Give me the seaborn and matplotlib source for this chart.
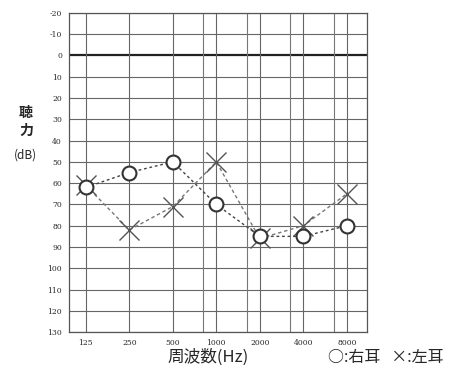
import numpy as np
import pandas as pd
import matplotlib
matplotlib.use("Agg")
import matplotlib.pyplot as plt
import seaborn as sns

# audiogram data (dB HL)
freqs = ["125", "250", "500", "1000", "2000", "4000", "8000"]
right_ear = [62, 55, 50, 70, 85, 85, 80]
left_ear = [61, 82, 71, 50, 86, 80, 65]
yticks = list(range(-20, 131, 10))

sns.set_style("white")
plt.rcParams["font.family"] = ["Noto Sans CJK JP", "DejaVu Sans"]

pos = np.arange(len(freqs))
df = pd.DataFrame({"pos": np.concatenate([pos, pos]),
                   "dB": right_ear + left_ear,
                   "ear": ["right"] * len(freqs) + ["left"] * len(freqs)})

fig = plt.figure(figsize=(4.62, 3.80), dpi=100)
ax = fig.add_axes([0.149, 0.126, 0.645, 0.840])

# grid
for y in yticks:
    if y == 0:
        ax.axhline(y, color="#222222", lw=1.6, zorder=1)
    else:
        ax.axhline(y, color="#666666", lw=0.8, zorder=1)
for x in pos:
    ax.axvline(x, color="#666666", lw=0.8, zorder=1)
# extra lines between octaves
for x in [2.7, 3.7, 4.7, 5.7]:
    ax.axvline(x, color="#777777", lw=0.8, zorder=1)

sns.lineplot(data=df[df.ear == "right"], x="pos", y="dB", ax=ax, color="#444444",
             linestyle=(0, (2, 2)), lw=1.0, marker="o", markersize=10,
             markerfacecolor="white", markeredgecolor="#333333", markeredgewidth=1.5, zorder=3)
sns.lineplot(data=df[df.ear == "left"], x="pos", y="dB", ax=ax, color="#777777",
             linestyle=(0, (2.5, 2)), lw=1.0, marker="x", markersize=14,
             markeredgecolor="#555555", markeredgewidth=1.0, zorder=2)

ax.set_xlim(-0.39, 6.46)
ax.set_ylim(130, -20)
ax.set_yticks(yticks)
ax.set_yticklabels([str(v) for v in yticks], fontsize=5.5, family="DejaVu Serif")
ax.set_xticks(pos)
ax.set_xticklabels(freqs, fontsize=5.5, family="DejaVu Serif")
ax.tick_params(length=0, pad=5)
ax.set_xlabel("")
ax.set_ylabel("")
for s in ax.spines.values():
    s.set_color("#555555")
    s.set_linewidth(0.9)

fig.text(0.056, 0.703, "聴", fontsize=10, fontweight="bold", ha="center", va="center")
fig.text(0.056, 0.655, "力", fontsize=10, fontweight="bold", ha="center", va="center")
fig.text(0.055, 0.592, "(dB)", fontsize=8.5, ha="center", va="center")
fig.text(0.45, 0.06, "周波数(Hz)", fontsize=12, ha="center", va="center")
fig.text(0.835, 0.06, "○:右耳   ×:左耳", fontsize=11.5, ha="center", va="center")

fig.savefig("out.png", dpi=100)
